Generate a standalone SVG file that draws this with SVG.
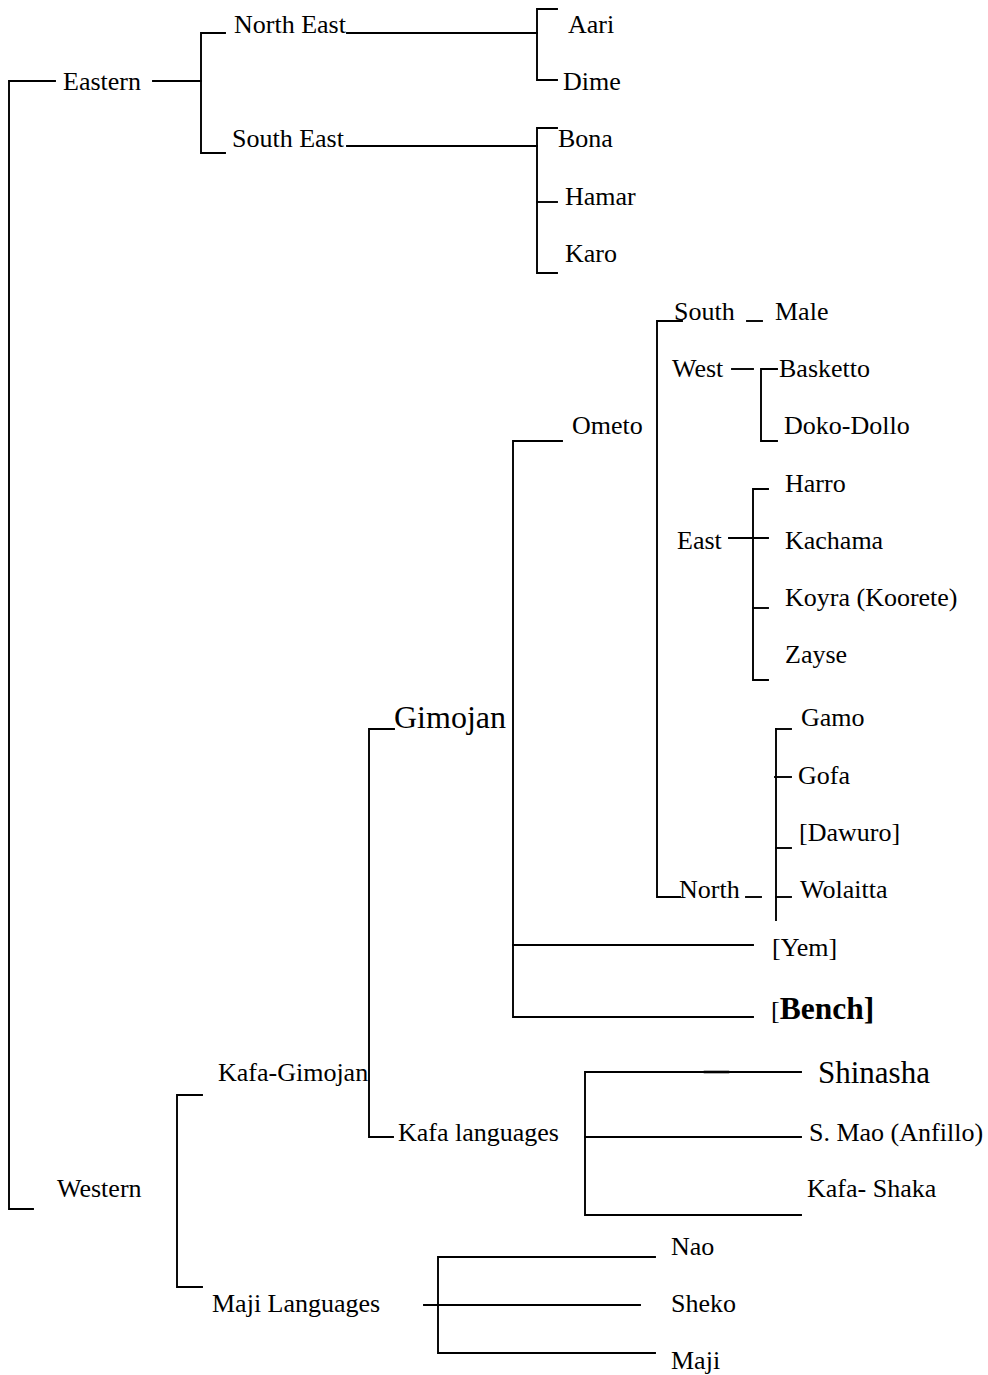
<svg xmlns="http://www.w3.org/2000/svg" width="988" height="1375" viewBox="0 0 988 1375">
<style>
text{font-family:"Liberation Serif","Times New Roman",serif;font-size:26px;fill:#000}
.big{font-size:31px}
.gim{font-size:32px}
.bold{font-weight:bold;font-size:31.5px}
.c{fill:none;stroke:#000;stroke-width:1.9;stroke-linecap:square}
</style>
<rect width="988" height="1375" fill="#fff"/>
<g id="connectors">
<polyline class="c" points="55,81 9,81 9,1209 33,1209"/>
<line class="c" x1="153" y1="81" x2="201" y2="81"/>
<polyline class="c" points="225,33 201,33 201,153 225,153"/>
<line class="c" x1="347" y1="33" x2="537" y2="33"/>
<polyline class="c" points="557,9 537,9 537,80 557,80"/>
<line class="c" x1="347" y1="146" x2="537" y2="146"/>
<polyline class="c" points="557,128 537,128 537,273 557,273"/>
<line class="c" x1="537" y1="202" x2="557" y2="202"/>
<polyline class="c" points="562,441 513,441 513,1017 753,1017"/>
<line class="c" x1="513" y1="945" x2="753" y2="945"/>
<polyline class="c" points="682,321 657,321 657,897 680,897"/>
<line class="c" x1="747" y1="321" x2="762" y2="321"/>
<line class="c" x1="732" y1="369" x2="753" y2="369"/>
<polyline class="c" points="777,369 761,369 761,441 777,441"/>
<line class="c" x1="729" y1="538" x2="768" y2="538"/>
<polyline class="c" points="768,489 753,489 753,680 768,680"/>
<line class="c" x1="753" y1="608" x2="768" y2="608"/>
<polyline class="c" points="394,729 369,729 369,1137 393,1137"/>
<line class="c" x1="746" y1="897" x2="761" y2="897"/>
<line class="c" x1="776" y1="729" x2="776" y2="920"/>
<line class="c" x1="776" y1="729" x2="791" y2="729"/>
<line class="c" x1="775" y1="777" x2="791" y2="777"/>
<line class="c" x1="776" y1="848" x2="791" y2="848"/>
<line class="c" x1="776" y1="897" x2="791" y2="897"/>
<polyline class="c" points="202,1095 177,1095 177,1287 202,1287"/>
<polyline class="c" points="801,1072 585,1072 585,1215 801,1215"/>
<line class="c" x1="585" y1="1137" x2="801" y2="1137"/>
<line class="c" x1="705" y1="1072" x2="728" y2="1072" style="stroke-width:2.6"/>
<polyline class="c" points="655,1257 438,1257 438,1353 655,1353"/>
<line class="c" x1="424" y1="1305" x2="640" y2="1305"/>
</g>
<g id="eastern"><text x="63" y="90">Eastern</text></g>
<g id="north-east"><text x="234" y="33">North East</text></g>
<g id="south-east"><text x="232" y="147">South East</text></g>
<g id="aari"><text x="568" y="33">Aari</text></g>
<g id="dime"><text x="563" y="90">Dime</text></g>
<g id="bona"><text x="558" y="147">Bona</text></g>
<g id="hamar"><text x="565" y="205">Hamar</text></g>
<g id="karo"><text x="565" y="262">Karo</text></g>
<g id="south"><text x="674" y="320">South</text></g>
<g id="male"><text x="775" y="320">Male</text></g>
<g id="west"><text x="672" y="377">West</text></g>
<g id="basketto"><text x="779" y="377">Basketto</text></g>
<g id="ometo"><text x="572" y="434">Ometo</text></g>
<g id="doko-dollo"><text x="784" y="434">Doko-Dollo</text></g>
<g id="harro"><text x="785" y="492">Harro</text></g>
<g id="east"><text x="677" y="549">East</text></g>
<g id="kachama"><text x="785" y="549">Kachama</text></g>
<g id="koyra"><text x="785" y="606">Koyra (Koorete)</text></g>
<g id="zayse"><text x="785" y="663">Zayse</text></g>
<g id="gimojan"><text class="gim" x="394" y="728">Gimojan</text></g>
<g id="gamo"><text x="801" y="726">Gamo</text></g>
<g id="gofa"><text x="798" y="784">Gofa</text></g>
<g id="dawuro"><text x="799" y="841">[Dawuro]</text></g>
<g id="north"><text x="679" y="898">North</text></g>
<g id="wolaitta"><text x="800" y="898">Wolaitta</text></g>
<g id="yem"><text x="772" y="956">[Yem]</text></g>
<g id="bench"><text x="771" y="1019">[<tspan class="bold">Bench]</tspan></text></g>
<g id="kafa-gimojan"><text x="218" y="1081">Kafa-Gimojan</text></g>
<g id="shinasha"><text class="big" x="818" y="1083">Shinasha</text></g>
<g id="kafa-languages"><text x="398" y="1141">Kafa languages</text></g>
<g id="s-mao"><text x="809" y="1141">S. Mao (Anfillo)</text></g>
<g id="western"><text x="57" y="1197">Western</text></g>
<g id="kafa-shaka"><text x="807" y="1197">Kafa- Shaka</text></g>
<g id="nao"><text x="671" y="1255">Nao</text></g>
<g id="maji-languages"><text x="212" y="1312">Maji Languages</text></g>
<g id="sheko"><text x="671" y="1312">Sheko</text></g>
<g id="maji"><text x="671" y="1369">Maji</text></g>
</svg>
